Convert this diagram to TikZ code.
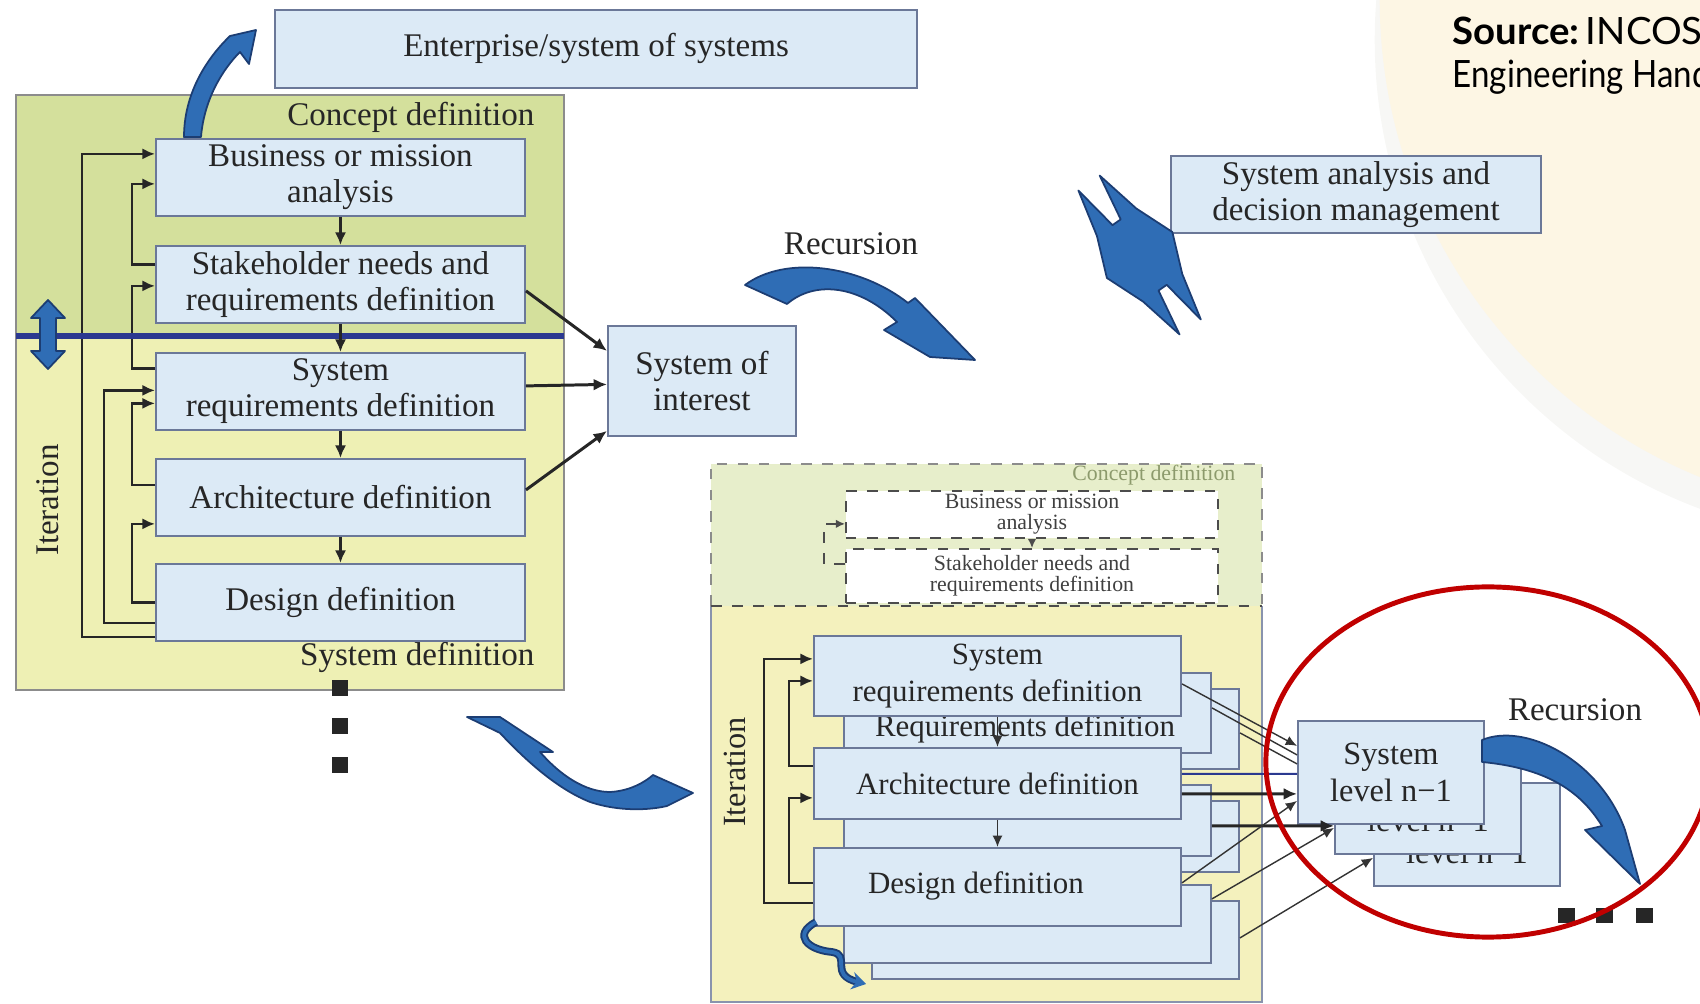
\documentclass[tikz,border=0pt]{standalone}
\usepackage{fontspec}
\setmainfont{Liberation Serif}
\newfontfamily\srcfont{Lato}[FakeStretch=1.02]
\newfontfamily\srcfontn{Lato}[FakeStretch=0.88]
\usetikzlibrary{arrows.meta,calc,shapes.geometric}

\definecolor{boxfill}{HTML}{DCEAF6}
\definecolor{boxline}{HTML}{6B7898}
\definecolor{conceptgreen}{HTML}{D4E09C}
\definecolor{sysyellow}{HTML}{EEF0B4}
\definecolor{paleconcept}{HTML}{E7EECB}
\definecolor{paleyellow}{HTML}{F4F1BD}
\definecolor{navyline}{HTML}{2B3990}
\definecolor{flowblue}{HTML}{2F6DB5}
\definecolor{flowedge}{HTML}{1C3D73}
\definecolor{txt}{HTML}{262626}
\definecolor{ringred}{HTML}{C00000}
\definecolor{globebeige}{HTML}{FDF6E4}
\definecolor{globegray}{HTML}{F7F7F5}
\definecolor{fadedgreen}{HTML}{8C9A6C}

\begin{document}
\begin{tikzpicture}[x=0.01cm, y=-0.01cm,
  font=\fontsize{9.4}{10.3}\selectfont,
  mbox/.style={draw=boxline, line width=0.5pt, fill=boxfill, text=txt, align=center,
    inner sep=0pt, anchor=north west, minimum width=3.69cm, minimum height=0.77cm},
  sbox/.style={mbox, font=\fontsize{8.8}{10.4}\selectfont, minimum width=3.67cm},
  dbox/.style={draw=black!70, dashed, line width=0.5pt, fill=white, text=black!75, align=center,
    inner sep=0pt, anchor=north west, minimum width=3.72cm,
    font=\fontsize{6.2}{6.0}\selectfont},
  lbl/.style={inner sep=0pt, text=txt},
  fb/.style={draw=black!85, line width=0.7pt, -{Latex[length=3.6pt,width=3.2pt]}},
  darr/.style={draw=black!85, line width=0.7pt, -{Latex[length=3.6pt,width=3.2pt]}},
  sarr/.style={draw=black!85, line width=0.85pt, -{Latex[length=3.8pt,width=3.4pt]}},
  thinarr/.style={draw=black!80, line width=0.4pt, -{Latex[length=3.2pt,width=2.8pt]}},
  bluearrow/.style={fill=flowblue, draw=flowedge, line width=0.5pt, line join=round},
  dotsq/.style={fill=black!85}
]
\useasboundingbox (0,0) rectangle (1700,1004);
\clip (0,0) rectangle (1700,1004);

% faint globe in the corner of the slide
\fill[globegray] (1875,40) circle (5cm);
\fill[globebeige] (1895,0) circle (5.15cm);

% source note
\node[anchor=base west, inner sep=0pt, font=\srcfont\fontsize{10.7}{12.2}\selectfont] (src1) at (1452,45) {\textbf{Source:}\,INCOSE Systems};
\node[anchor=base west, inner sep=0pt, font=\srcfontn\fontsize{10.7}{12.2}\selectfont] (src2) at (1452,88) {Engineering Handbook};

% ---------------- top level: system of interest ----------------
\node[mbox, minimum width=6.42cm, minimum height=0.78cm] (ent) at (274,9) {Enterprise/system of systems};

\fill[conceptgreen] (16,95) rectangle (564,336);
\fill[sysyellow] (16,336) rectangle (564,690);
\draw[black!45, line width=0.7pt] (16,95) rectangle (564,690);
\node[lbl, anchor=east] (cdl) at (535,117) {Concept definition};
\node[lbl, anchor=east] (sdl) at (535,657) {System definition};
\node[lbl, rotate=90] (itu) at (48,500) {Iteration};

\node[mbox] (biz) at (155,138) {Business or mission\\analysis};
\node[mbox] (stake) at (155,245) {Stakeholder needs and\\requirements definition};
\node[mbox] (sysreq) at (155,352) {System\\requirements definition};
\node[mbox] (arch) at (155,458) {Architecture definition};
\node[mbox] (design) at (155,563) {Design definition};

% iteration loops
\draw[fb] ($(stake.west)+(0,-20)$) -- ++(-23,0) |- ($(biz.west)+(0,6.5)$);
\draw[fb] ($(sysreq.west)+(0,-23)$) -- ++(-23,0) |- ($(stake.west)+(0,1.5)$);
\draw[fb] ($(arch.west)+(0,-12.5)$) -- ++(-23,0) |- ($(sysreq.west)+(0,12)$);
\draw[fb] ($(design.west)+(0,0)$) -- ++(-23,0) |- ($(arch.west)+(0,26.5)$);
\draw[fb] ($(design.west)+(0,20.5)$) -- ++(-51,0) |- ($(sysreq.west)+(0,-1)$);
\draw[fb] ($(design.west)+(0,34.5)$) -- ++(-73,0) |- ($(biz.west)+(0,-23.5)$);

% boundary between concept and system definition
\draw[navyline, line width=1.7pt] (16,336) -- (564,336);

\draw[darr] (biz) -- (stake);
\draw[darr] (stake) -- (sysreq);
\draw[darr] (sysreq) -- (arch);
\draw[darr] (arch) -- (design);

% vertical double arrow across the boundary
\filldraw[bluearrow] (48,300) -- (65,318) -- (56,318) -- (56,351) -- (65,351) -- (48,369)
  -- (31,351) -- (40,351) -- (40,318) -- (31,318) -- cycle;

% curved arrow from the enterprise level
\filldraw[bluearrow] (184,137) .. controls (184,95) and (205,60) .. (230,36) -- (256,30) -- (249,64)
  -- (240,52) .. controls (222,70) and (204,100) .. (201,137) -- cycle;

\node[mbox, minimum width=1.88cm, minimum height=1.10cm] (soi) at (607,325) {System of\\interest};
\draw[sarr] ($(stake.east)+(0,6.5)$) -- ($(soi.west)+(0,-30)$);
\draw[sarr] ($(sysreq.east)+(0,-5.5)$) -- ($(soi.west)+(0,3.5)$);
\draw[sarr] ($(arch.east)+(0,-7.5)$) -- ($(soi.west)+(0,50)$);

% continuation dots
\fill[dotsq] (332,680) rectangle (348,696);
\fill[dotsq] (332,718) rectangle (348,734);
\fill[dotsq] (332,757) rectangle (348,773);

% recursion to the next level
\node[lbl] (rec1) at (851,244) {Recursion};
\filldraw[bluearrow] (745,285) .. controls (785,255) and (860,265) .. (908,303) -- (915,298)
  -- (975,360) -- (930,357) -- (884,330) -- (897,322) .. controls (860,285) and (815,280) .. (787,304) -- cycle;

% system analysis and decision management
\node[mbox, minimum width=3.70cm, minimum height=0.77cm] (sadm) at (1170,155) {System analysis and\\decision management};
\begin{scope}[shift={(1089,183)}, rotate=-54.9]
  \filldraw[bluearrow] (0,-13) -- (48,-24) -- (88,-40) -- (128,-24) -- (176,-13) -- (128,-5)
    -- (128,5) -- (176,13) -- (128,24) -- (88,40) -- (48,24) -- (0,13) -- (48,5) -- (48,-5) -- cycle;
\end{scope}

% curved arrow down to the lower level
\filldraw[bluearrow] (467,717) -- (500,717) -- (553,752) -- (540,752)
  .. controls (560,775) and (585,792) .. (610,792) .. controls (630,791) and (645,782) .. (653,775)
  -- (693,793) -- (667,806) .. controls (650,810) and (620,812) .. (590,802)
  .. controls (560,790) and (530,765) .. (500,733) -- cycle;

% ---------------- lower level: system level n-1 ----------------
\fill[paleconcept] (711,464) rectangle (1262,606);
\draw[black!45, dashed, line width=0.5pt] (711,606) -- (711,464) -- (1262,464) -- (1262,606);
\fill[paleyellow] (711,606) rectangle (1262,1002);
\draw[boxline!80, line width=0.6pt] (711,606) -- (711,1002) -- (1262,1002) -- (1262,606);
\draw[black!70, dashed, line width=0.8pt] (711,606) -- (1262,606);
\node[lbl, anchor=east, text=fadedgreen, font=\fontsize{6.2}{7}\selectfont] (lcdl) at (1236,475) {Concept definition};
\node[lbl, rotate=90, font=\fontsize{9.2}{10}\selectfont] (itl) at (735,772) {Iteration};

\node[dbox, minimum height=0.47cm] (lbiz) at (845,490) {Business or mission\\analysis};
\node[dbox, minimum height=0.54cm] (lstake) at (845,548) {Stakeholder needs and\\requirements definition};
\draw[black!70, dashed, line width=0.4pt, -{Latex[length=2.6pt,width=2.4pt]}] (lbiz) -- (lstake);
\draw[black!70, dashed, line width=0.4pt, -{Latex[length=2.6pt,width=2.4pt]}] ($(lstake.west)+(0,-12)$) -- ++(-21,0) |- ($(lbiz.west)+(0,9.5)$);

% stacked process boxes
\node[sbox, minimum height=0.80cm] (lsys3) at (871,688) {};
\node[sbox, minimum height=0.80cm] (lsys2) at (843,672) {};
\node[lbl, font=\fontsize{8.8}{10.4}\selectfont] (lsys2t) at (1025,729) {Requirements definition};
\node[sbox, minimum height=0.80cm] (lsys) at (813,635) {System\\requirements definition};

\node[sbox, minimum height=0.71cm] (larch3) at (871,800) {};
\node[sbox, minimum height=0.71cm] (larch2) at (843,784) {};
\node[sbox, minimum height=0.71cm] (larch) at (813,747) {Architecture definition};

\node[sbox, minimum height=0.78cm] (ldes3) at (871,900) {};
\node[sbox, minimum height=0.78cm] (ldes2) at (843,884) {};
\node[sbox, minimum height=0.78cm] (ldes) at (813,847) {};
\node[lbl, font=\fontsize{8.8}{10.4}\selectfont] (ldest) at (976,886) {Design definition};

\draw[fb] ($(larch.west)+(0,-17.5)$) -- ++(-24,0) |- ($(lsys.west)+(0,5)$);
\draw[fb] ($(ldes.west)+(0,-4)$) -- ++(-24,0) |- ($(larch.west)+(0,14.5)$);
\draw[fb] ($(ldes.west)+(0,16)$) -- ++(-49,0) |- ($(lsys.west)+(0,-17)$);
\draw[thinarr] (lsys) -- (larch);
\draw[thinarr] (larch) -- (ldes);

% small iteration twist below the stack
\draw[flowedge, line width=2.2pt] (816,922) .. controls (792,935) and (808,950) .. (832,952)
  .. controls (852,955) and (828,975) .. (858,982);
\draw[flowblue, line width=1.1pt, -{Stealth[length=4pt,width=5pt]}] (816,922) .. controls (792,935) and (808,950) .. (832,952)
  .. controls (852,955) and (828,975) .. (866,984);

% system level n-1 (stacked)
\node[sbox, minimum width=1.86cm, minimum height=1.03cm, font=\fontsize{9.2}{10.3}\selectfont] (sl3) at (1373,782) {System\\level n−1};
\node[sbox, minimum width=1.86cm, minimum height=1.03cm, font=\fontsize{9.2}{10.3}\selectfont] (sl2) at (1334,750) {System\\level n−1};
\node[sbox, minimum width=1.86cm, minimum height=1.03cm, font=\fontsize{9.2}{10.3}\selectfont] (sl1) at (1297,720) {System\\level n−1};

% flows into the lower system level
\draw[thinarr] ($(lsys.east)+(0,8)$) -- ($(sl1.west)+(0,-26.5)$);
\draw[black!80, line width=0.4pt] ($(lsys2.east)+(0,-5)$) -- ($(sl1.west)+(0,-17.5)$);
\draw[black!80, line width=0.4pt] ($(lsys3.east)+(0,4)$) -- ($(sl1.west)+(0,-8.5)$);
\draw[navyline, line width=0.6pt] ($(larch.east)+(0,-9.5)$) -- ($(sl1.west)+(0,1.5)$);
\draw[sarr] ($(larch.east)+(0,10.5)$) -- ($(sl1.west)+(0,21.5)$);
\draw[sarr] ($(larch2.east)+(0,5.5)$) -- ($(sl2.west)+(0,23.5)$);
\draw[thinarr] ($(ldes.east)+(0,-4)$) -- ($(sl1.west)+(0,28.5)$);
\draw[thinarr] ($(ldes2.east)+(0,-25)$) -- ($(sl2.west)+(0,25.5)$);
\draw[thinarr] ($(ldes3.east)+(0,-2)$) -- ($(sl3.west)+(0,23.5)$);

% further recursion
\node[lbl] (rec2) at (1575,710) {Recursion};
\filldraw[bluearrow] (1482,740) .. controls (1525,722) and (1600,760) .. (1625,830) -- (1640,884)
  -- (1585,830) -- (1602,826) .. controls (1580,790) and (1545,768) .. (1482,762) -- cycle;

\fill[dotsq] (1558,908) rectangle (1575,923);
\fill[dotsq] (1596,908) rectangle (1613,923);
\fill[dotsq] (1636,908) rectangle (1653,923);

% highlight ring
\draw[ringred, line width=1.4pt] (1488,762) ellipse (2.22cm and 1.75cm);
\end{tikzpicture}
\end{document}
